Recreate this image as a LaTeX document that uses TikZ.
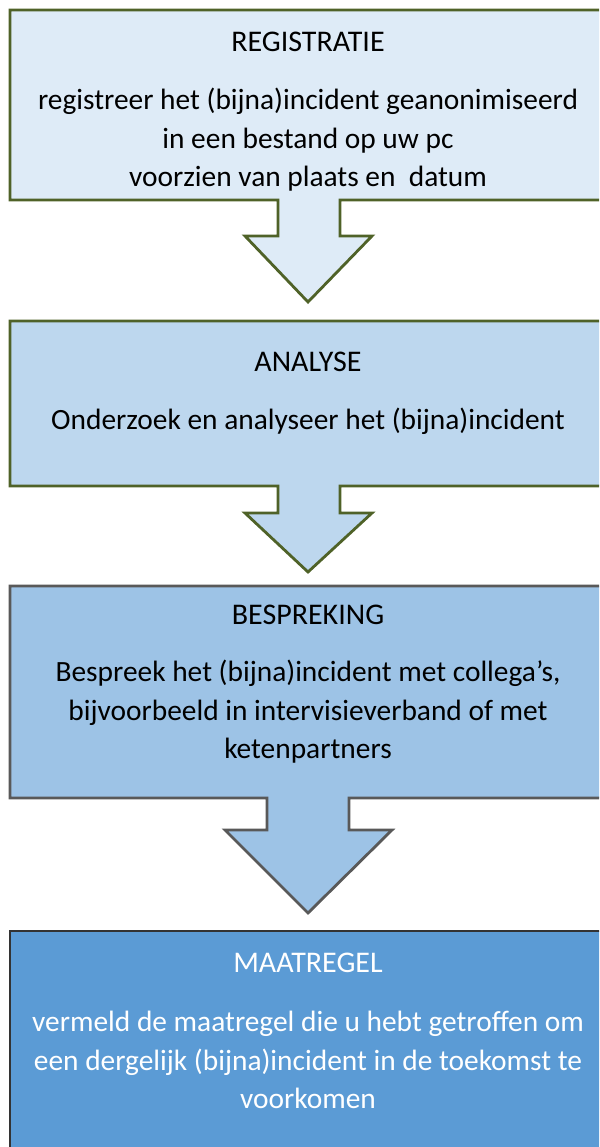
\documentclass[tikz,border=0pt]{standalone}
\usepackage{fontspec}
\setmainfont{Carlito}
\definecolor{fillA}{HTML}{DEEBF7}
\definecolor{fillB}{HTML}{BDD7EE}
\definecolor{fillC}{HTML}{9DC3E6}
\definecolor{fillD}{HTML}{5B9BD5}
\definecolor{greenline}{HTML}{4F6228}
\definecolor{grayline}{HTML}{595959}
\tikzset{
  stagebox/.style={line width=2.8pt, line join=miter},
  title/.style={font=\fontsize{30}{36}\selectfont, anchor=center, inner sep=0pt},
  body/.style={font=\fontsize{29.4}{38.5}\selectfont, align=center, anchor=center, inner sep=0pt},
}
\begin{document}
\begin{tikzpicture}[x=1pt,y=-1pt]
\useasboundingbox (0,0) rectangle (599,1147);
\begin{scope}
\clip (0,0) rectangle (599,1147);
% box 1 with arrow
\draw[stagebox, draw=greenline, fill=fillA]
  (10,10) -- (606,10) -- (606,200) -- (340,200) -- (340,236) -- (372,236)
  -- (308,302) -- (245,236) -- (278,236) -- (278,200) -- (10,200) -- cycle;
% box 2 with arrow
\draw[stagebox, draw=greenline, fill=fillB]
  (10,321) -- (606,321) -- (606,486) -- (340,486) -- (340,513) -- (372,513)
  -- (308,572) -- (245,513) -- (278,513) -- (278,486) -- (10,486) -- cycle;
% box 3 with arrow
\draw[stagebox, draw=grayline, fill=fillC]
  (10,586) -- (606,586) -- (606,798) -- (349,798) -- (349,830) -- (392,830)
  -- (308,913) -- (225,830) -- (267,830) -- (267,798) -- (10,798) -- cycle;
% box 4
\draw[line width=1.5pt, draw=black!80, fill=fillD]
  (10,931) rectangle (606,1160);
\end{scope}
\node[title] (t1) at (308,42) {REGISTRATIE};
\node[body] (b1) at (308,140) {registreer het (bijna)incident geanonimiseerd\\in een bestand op uw pc\\voorzien van plaats en \ datum};
\node[title] (t2) at (308,362) {ANALYSE};
\node[body] (b2) at (308,421) {Onderzoek en analyseer het (bijna)incident};
\node[title] (t3) at (308,615) {BESPREKING};
\node[body] (b3) at (308,712) {Bespreek het (bijna)incident met collega’s,\\bijvoorbeeld in intervisieverband of met\\ketenpartners};
\node[title, text=white] (t4) at (308,963) {MAATREGEL};
\node[body, text=white] (b4) at (308,1060) {vermeld de maatregel die u hebt getroffen om\\een dergelijk (bijna)incident in de toekomst te\\voorkomen};
\end{tikzpicture}
\end{document}
